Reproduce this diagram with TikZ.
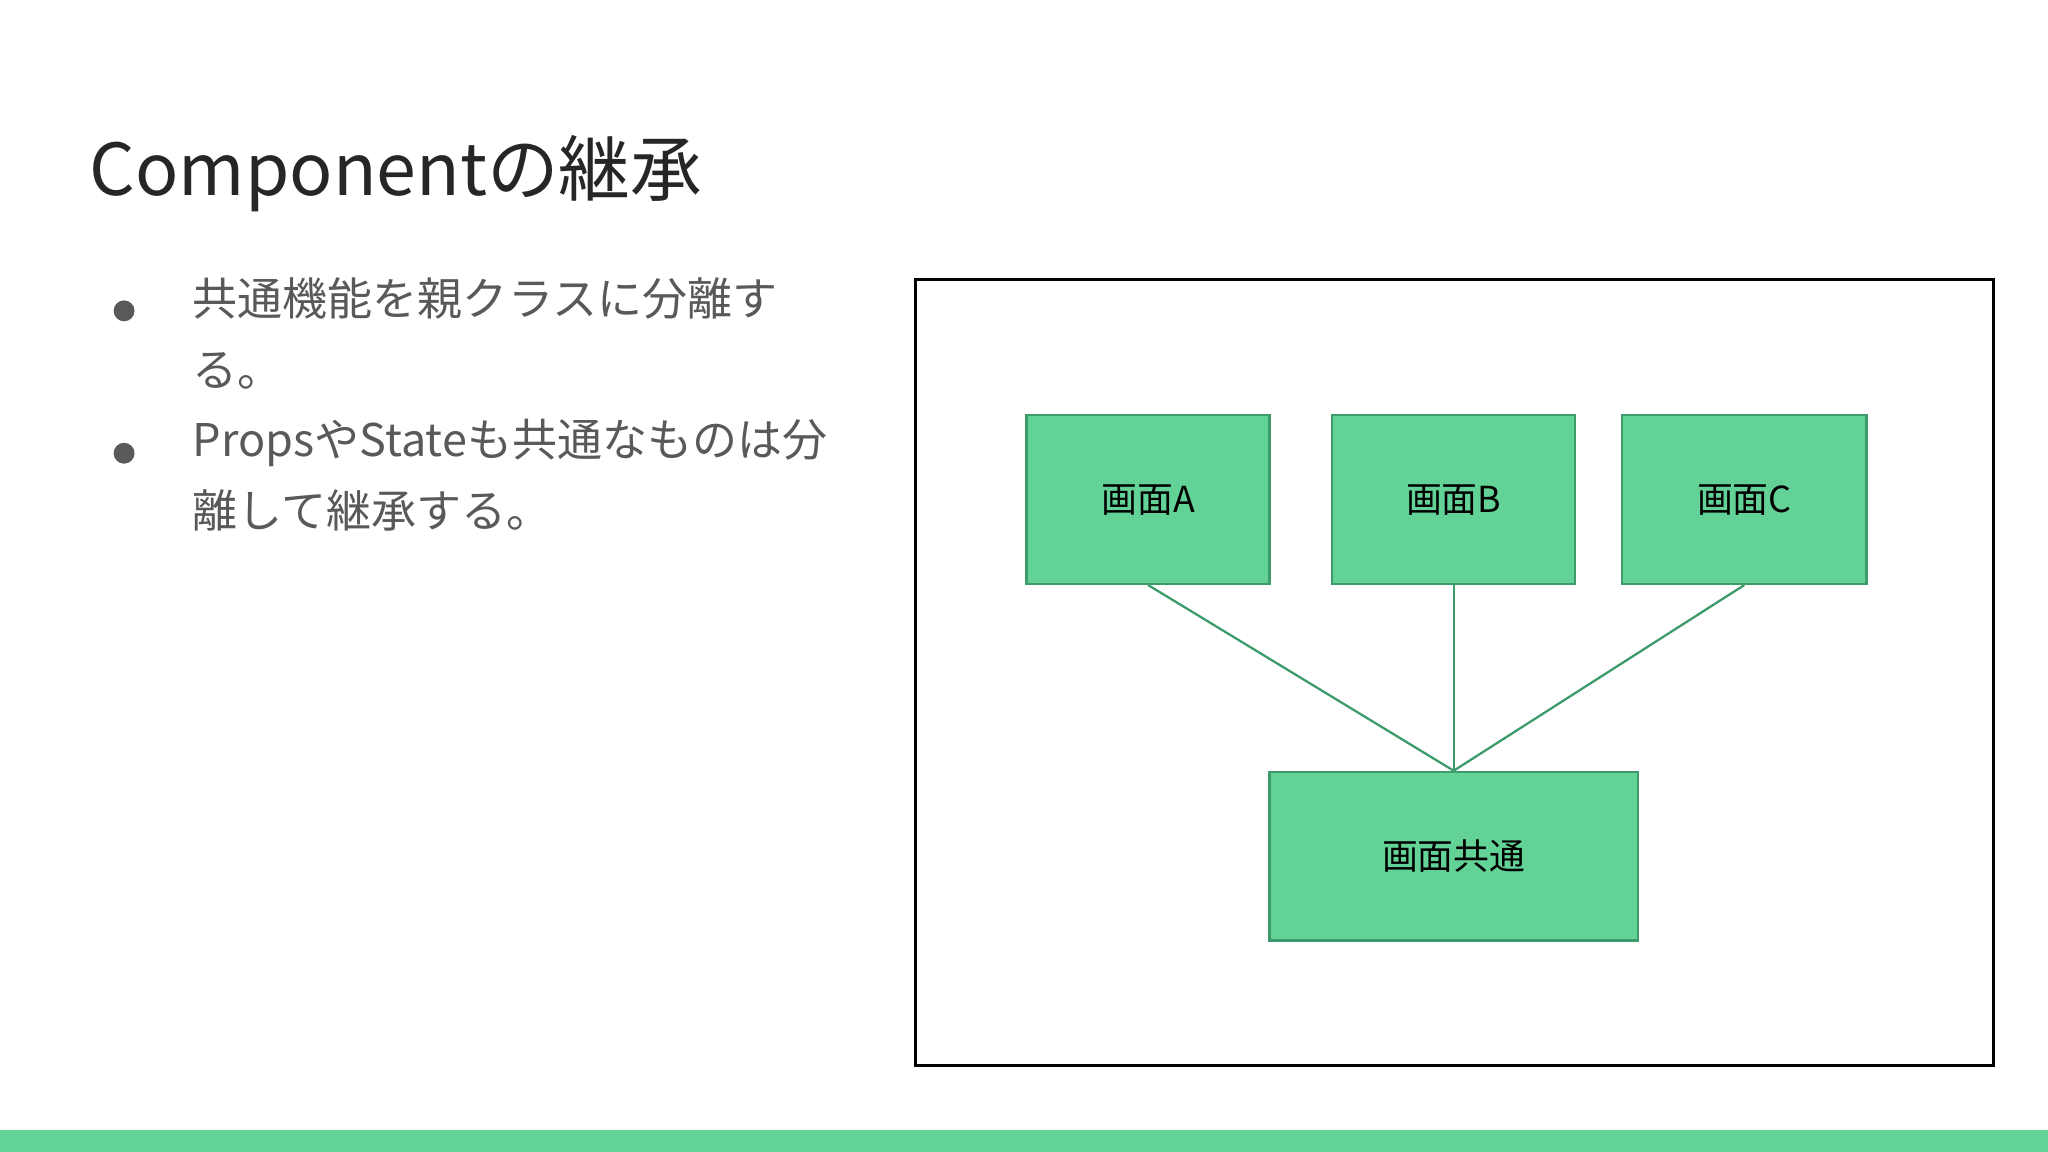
\documentclass[tikz,border=0pt]{standalone}
\usepackage{fontspec}
\setmainfont{Noto Sans CJK JP}
\definecolor{gfill}{HTML}{63D297}
\definecolor{gline}{HTML}{3E9B6C}
\definecolor{tgray}{HTML}{595959}
\begin{document}
\begin{tikzpicture}[x=0.01cm,y=-0.01cm,
  gbox/.style={draw=gline,fill=gfill,line width=0.5pt,inner sep=0pt},
  btext/.style={anchor=north west,align=left,font=\fontsize{9.8}{15.5}\selectfont,text=tgray,inner sep=0},
  conn/.style={draw=gline,line width=0.5pt}]
\useasboundingbox (0,0) rectangle (1568,882);
\fill[gfill] (0,865) rectangle (1568,882);
\node[anchor=base west,font=\fontsize{15.6}{20}\selectfont,text=black!85,inner sep=0] (title) at (68,150) {Componentの継承};
\node[btext] (b1) at (147,212) {共通機能を親クラスに分離す\\る。};
\node[btext] (b2) at (147,320) {PropsやStateも共通なものは分\\離して継承する。};
\fill[tgray] (95,238) circle (8) (95,347) circle (8);
\draw[black,line width=0.6pt] (701,214) rectangle (1526,816);
\node[gbox,minimum width=1.86cm,minimum height=1.29cm,font=\fontsize{7.8}{9}\selectfont] (a) at (879,382.5) {画面A};
\node[gbox,minimum width=1.86cm,minimum height=1.29cm,font=\fontsize{7.8}{9}\selectfont] (b) at (1113,382.5) {画面B};
\node[gbox,minimum width=1.87cm,minimum height=1.29cm,font=\fontsize{7.8}{9}\selectfont] (c) at (1335.5,382.5) {画面C};
\node[gbox,minimum width=2.82cm,minimum height=1.29cm,font=\fontsize{7.8}{9}\selectfont] (k) at (1113,655.5) {画面共通};
\draw[conn] (a.south) -- (k.north);
\draw[conn] (b.south) -- (k.north);
\draw[conn] (c.south) -- (k.north);
\end{tikzpicture}
\end{document}
